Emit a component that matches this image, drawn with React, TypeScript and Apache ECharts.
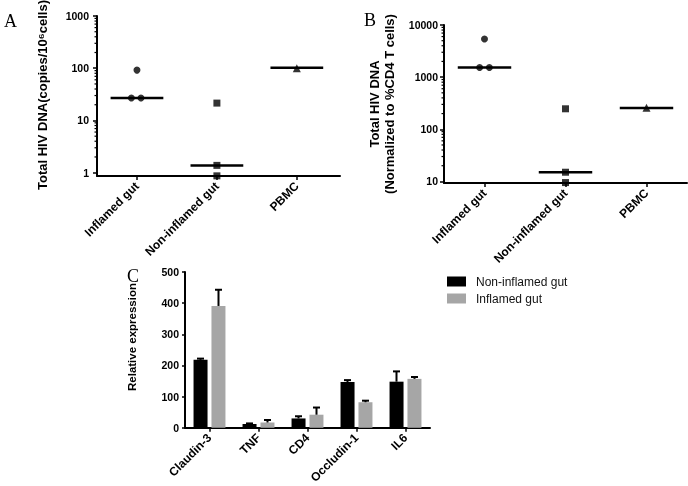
import React, { useEffect, useRef } from "react";
import * as echarts from "echarts";

// Panels A & B: groups
const groupsAB = ["Inflamed gut", "Non-inflamed gut", "PBMC"];

// Panel A values (copies/10^6 cells)
const aInflamed = [92, 27, 27];
const aInflamedJitter = [0, -0.07, 0.05];
const aNonInflamed = [21.5, 1.38, 0.87];
const aPBMC = [100];
const aMedians = [27, 1.38, 102];
const aMajorTicks = [1, 10, 100, 1000];
const aMinorTicks = [2, 3, 4, 5, 6, 7, 8, 9, 20, 30, 40, 50, 60, 70, 80, 90, 200, 300, 400, 500, 600, 700, 800, 900];

// Panel B values (normalized to %CD4 T cells)
const bInflamed = [5400, 1530, 1530];
const bInflamedJitter = [0, -0.06, 0.06];
const bNonInflamed = [247, 15, 9.5];
const bPBMC = [258];
const bMedians = [1530, 15, 255];
const bMajorTicks = [10, 100, 1000, 10000];
const bMinorTicks = [20, 30, 40, 50, 60, 70, 80, 90, 200, 300, 400, 500, 600, 700, 800, 900, 2000, 3000, 4000, 5000, 6000, 7000, 8000, 9000];

// Panel C
const genes = ["Claudin-3", "TNF", "CD4", "Occludin-1", "IL6"];
const nonInflamedMean = [218, 12, 30, 147, 148];
const nonInflamedErr = [4, 2, 7, 6, 33];
const inflamedMean = [391, 17, 42, 82, 157];
const inflamedErr = [52, 8, 23, 5, 6];

const FONT = "Liberation Sans, Arial, sans-serif";
const SERIF = "Liberation Serif, Times New Roman, serif";

export default function App() {
  const ref = useRef<HTMLDivElement>(null);
  useEffect(() => {
    if (!ref.current) return;
    const chart = echarts.init(ref.current, null, { renderer: "svg" });

    const axisLine = { show: true, onZero: false, lineStyle: { color: "#000", width: 2 } };
    const tickStyle = { color: "#000", width: 1.5 };
    const tickLabel = { color: "#000", fontFamily: FONT, fontWeight: "bold", fontSize: 10.5 };
    const catLabel = { color: "#000", fontFamily: FONT, fontWeight: "bold", fontSize: 12, rotate: 45, margin: 8 };

    const medianSeries = (idx: number, medians: number[]) => ({
      type: "custom",
      xAxisIndex: idx,
      yAxisIndex: idx,
      z: 2,
      silent: true,
      data: medians.map((m, i) => [i, m]),
      renderItem: (params: any, api: any) => {
        const i = api.value(0);
        const m = api.value(1);
        const p1 = api.coord([i - 0.33, m]);
        const p2 = api.coord([i + 0.33, m]);
        return {
          type: "line",
          shape: { x1: p1[0], y1: p1[1], x2: p2[0], y2: p2[1] },
          style: { stroke: "#000", lineWidth: 2.5 },
        };
      },
    });

    const minorSeries = (idx: number, ticks: number[], xmin: number) => ({
      type: "custom",
      xAxisIndex: idx,
      yAxisIndex: idx,
      z: 1,
      silent: true,
      data: ticks.map((v) => [xmin, v]),
      renderItem: (params: any, api: any) => {
        const p = api.coord([xmin, api.value(1)]);
        return {
          type: "line",
          shape: { x1: p[0] - 2.5, y1: p[1], x2: p[0], y2: p[1] },
          style: { stroke: "#000", lineWidth: 1.2 },
        };
      },
    });

    const errSeries = (name: string, means: number[], errs: number[], dx: number) => ({
      type: "custom",
      name,
      xAxisIndex: 2,
      yAxisIndex: 2,
      z: 5,
      silent: true,
      data: means.map((m, i) => [i, m, errs[i]]),
      renderItem: (params: any, api: any) => {
        const i = api.value(0);
        const m = api.value(1);
        const e = api.value(2);
        const b = api.coord([i, m]);
        const t = api.coord([i, m + e]);
        const x = b[0] + dx;
        return {
          type: "group",
          children: [
            { type: "line", shape: { x1: x, y1: b[1], x2: x, y2: t[1] }, style: { stroke: "#000", lineWidth: 2 } },
            { type: "line", shape: { x1: x - 3.5, y1: t[1], x2: x + 3.5, y2: t[1] }, style: { stroke: "#000", lineWidth: 2 } },
          ],
        };
      },
    });

    const option: any = {
      animation: false,
      grid: [
        { left: 97, top: 16, width: 243, height: 160 },
        { left: 444, top: 25, width: 243, height: 158 },
        { left: 185, top: 272, width: 245, height: 159 },
      ],
      xAxis: [
        {
          gridIndex: 0,
          type: "value",
          min: -0.5,
          max: 2.54,
          axisLine,
          splitLine: { show: false },
          axisTick: { show: true, customValues: [0, 1, 2], length: 4, lineStyle: tickStyle },
          axisLabel: { ...catLabel, customValues: [0, 1, 2], formatter: (v: number) => groupsAB[Math.round(v)] },
        },
        {
          gridIndex: 1,
          type: "value",
          min: -0.5,
          max: 2.5,
          axisLine,
          splitLine: { show: false },
          axisTick: { show: true, customValues: [0, 1, 2], length: 4, lineStyle: tickStyle },
          axisLabel: { ...catLabel, customValues: [0, 1, 2], formatter: (v: number) => groupsAB[Math.round(v)] },
        },
        {
          gridIndex: 2,
          type: "category",
          data: genes,
          axisLine,
          axisTick: { show: true, alignWithLabel: true, length: 4, lineStyle: tickStyle },
          axisLabel: { ...catLabel, interval: 0 },
        },
      ],
      yAxis: [
        {
          gridIndex: 0,
          type: "log",
          logBase: 10,
          min: 0.864,
          max: 1000,
          axisLine,
          splitLine: { show: false },
          axisTick: { show: true, customValues: aMajorTicks, length: 4, lineStyle: tickStyle },
          axisLabel: { ...tickLabel, customValues: aMajorTicks, margin: 8, formatter: (v: number) => String(Math.round(v)) },
        },
        {
          gridIndex: 1,
          type: "log",
          logBase: 10,
          min: 9.32,
          max: 10000,
          axisLine,
          splitLine: { show: false },
          axisTick: { show: true, customValues: bMajorTicks, length: 4, lineStyle: tickStyle },
          axisLabel: { ...tickLabel, customValues: bMajorTicks, margin: 6, formatter: (v: number) => String(Math.round(v)) },
        },
        {
          gridIndex: 2,
          type: "value",
          min: 0,
          max: 500,
          interval: 100,
          axisLine,
          splitLine: { show: false },
          axisTick: { show: true, length: 3, lineStyle: tickStyle },
          axisLabel: { ...tickLabel, margin: 6 },
        },
      ],
      legend: {
        data: ["Non-inflamed gut", "Inflamed gut"],
        orient: "vertical",
        left: 442,
        top: 270.5,
        itemWidth: 19,
        itemHeight: 10,
        itemGap: 5,
        icon: "rect",
        textStyle: { fontFamily: FONT, fontSize: 12, color: "#111", padding: [0, 0, 0, 5] },
      },
      series: [
        minorSeries(0, aMinorTicks, -0.5),
        minorSeries(1, bMinorTicks, -0.5),
        medianSeries(0, aMedians),
        medianSeries(1, bMedians),
        {
          type: "scatter", xAxisIndex: 0, yAxisIndex: 0, z: 3, symbol: "circle", symbolSize: 7,
          itemStyle: { color: "#000" },
          data: aInflamed.map((v, i) => [0 + aInflamedJitter[i], v]),
        },
        {
          type: "scatter", xAxisIndex: 0, yAxisIndex: 0, z: 3, symbol: "rect", symbolSize: 7, clip: false,
          itemStyle: { color: "#000" },
          data: aNonInflamed.map((v) => [1, v]),
        },
        {
          type: "scatter", xAxisIndex: 0, yAxisIndex: 0, z: 3, symbol: "triangle", symbolSize: 8,
          itemStyle: { color: "#000" },
          data: aPBMC.map((v) => [2, v]),
        },
        {
          type: "scatter", xAxisIndex: 1, yAxisIndex: 1, z: 3, symbol: "circle", symbolSize: 7,
          itemStyle: { color: "#000" },
          data: bInflamed.map((v, i) => [0 + bInflamedJitter[i], v]),
        },
        {
          type: "scatter", xAxisIndex: 1, yAxisIndex: 1, z: 3, symbol: "rect", symbolSize: 7, clip: false,
          itemStyle: { color: "#000" },
          data: bNonInflamed.map((v) => [1, v]),
        },
        {
          type: "scatter", xAxisIndex: 1, yAxisIndex: 1, z: 3, symbol: "triangle", symbolSize: 8,
          itemStyle: { color: "#000" },
          data: bPBMC.map((v) => [2, v]),
        },
        {
          type: "bar", name: "Non-inflamed gut", xAxisIndex: 2, yAxisIndex: 2,
          barWidth: 14, barGap: "28%",
          itemStyle: { color: "#000" },
          data: nonInflamedMean,
        },
        {
          type: "bar", name: "Inflamed gut", xAxisIndex: 2, yAxisIndex: 2,
          barWidth: 14, barGap: "28%",
          itemStyle: { color: "#a6a6a6" },
          data: inflamedMean,
        },
        errSeries("errN", nonInflamedMean, nonInflamedErr, -9),
        errSeries("errI", inflamedMean, inflamedErr, 9),
      ],
      graphic: [
        { type: "text", left: 4, top: 12, style: { text: "A", font: `18px ${SERIF}`, fill: "#000" } },
        { type: "text", left: 364, top: 11, style: { text: "B", font: `18px ${SERIF}`, fill: "#000" } },
        { type: "text", left: 127, top: 267, style: { text: "C", font: `18px ${SERIF}`, fill: "#000" } },
        {
          type: "text", x: 42, y: 95, rotation: Math.PI / 2,
          style: {
            text: "Total HIV DNA(copies/10\u2076cells)",
            font: `bold 13px ${FONT}`,
            fill: "#000",
            align: "center",
            verticalAlign: "middle",
          },
        },
        {
          type: "text", x: 382, y: 104, rotation: Math.PI / 2,
          style: {
            text: "Total HIV DNA\n(Normalized to %CD4 T cells)",
            font: `bold 13px ${FONT}`,
            lineHeight: 15,
            fill: "#000",
            align: "center",
            verticalAlign: "middle",
          },
        },
        {
          type: "text", x: 132, y: 337, rotation: Math.PI / 2,
          style: {
            text: "Relative expression",
            font: `bold 11.5px ${FONT}`,
            fill: "#000",
            align: "center",
            verticalAlign: "middle",
          },
        },
      ],
    };

    chart.setOption(option);
    return () => chart.dispose();
  }, []);

  return <div ref={ref} style={{ position: "fixed", left: 0, top: 0, width: 688, height: 486 }} />;
}
